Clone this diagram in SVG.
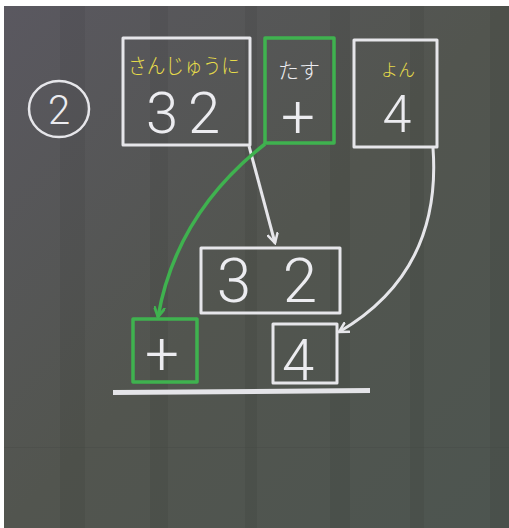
<svg xmlns="http://www.w3.org/2000/svg" width="509" height="528" viewBox="0 0 509 528">
<defs>
<linearGradient id="bg" x1="0" y1="0" x2="1" y2="1">
<stop offset="0" stop-color="#5a5860"/>
<stop offset="0.5" stop-color="#52554f"/>
<stop offset="1" stop-color="#4d5550"/>
</linearGradient>
<marker id="hw" viewBox="0 0 12 12" refX="10" refY="6" markerWidth="12" markerHeight="12" markerUnits="userSpaceOnUse" orient="auto">
<path d="M1,1 L10,6 L1,11" fill="none" stroke="#e6e6ea" stroke-width="2.5" stroke-linecap="round"/>
</marker>
<marker id="hg" viewBox="0 0 12 12" refX="10" refY="6" markerWidth="12" markerHeight="12" markerUnits="userSpaceOnUse" orient="auto">
<path d="M1,1 L10,6 L1,11" fill="none" stroke="#3fb24f" stroke-width="2.8" stroke-linecap="round"/>
</marker>
</defs>
<style>
.w{fill:none;stroke:#e6e6ea;stroke-width:3;stroke-linejoin:round}
.g{fill:none;stroke:#3fb24f;stroke-width:3.5;stroke-linejoin:round}
.big{font-family:Roboto,"Open Sans",Lato,sans-serif;font-weight:300;fill:#ececf0;text-anchor:middle}
.jy{font-family:"Noto Sans CJK JP",sans-serif;font-weight:300;fill:#e6dc4a;text-anchor:middle}
.jw{font-family:"Noto Sans CJK JP",sans-serif;font-weight:300;fill:#ececf0;text-anchor:middle}
.streak{fill:#000;opacity:0.05}
</style>
<rect x="0" y="0" width="509" height="528" fill="#ffffff"/>
<rect x="4" y="6" width="505" height="522" fill="url(#bg)"/>
<g id="board-texture">
<rect class="streak" x="60" y="6" width="25" height="522"/>
<rect class="streak" x="150" y="6" width="18" height="522"/>
<rect class="streak" x="245" y="6" width="12" height="522"/>
<rect class="streak" x="330" y="6" width="20" height="522"/>
<rect class="streak" x="410" y="6" width="14" height="522"/>
<rect class="streak" x="490" y="6" width="19" height="522"/>
<rect x="4" y="447" width="505" height="1" fill="#3e423e" opacity="0.25"/>
</g>
<g id="label-2">
<ellipse cx="59" cy="109" rx="30" ry="28" fill="none" stroke="#e6e6ea" stroke-width="2.5"/>
<text class="big" x="59" y="124" font-size="40">2</text>
</g>
<g id="box-32">
<rect class="w" x="123" y="38" width="127" height="107"/>
<text class="jy" x="184" y="73" font-size="21" textLength="112" lengthAdjust="spacingAndGlyphs">さんじゅうに</text>
<text class="big" font-size="58" y="133"><tspan x="162">3</tspan><tspan x="204">2</tspan></text>
</g>
<g id="box-plus">
<rect class="g" x="265" y="38" width="69" height="105"/>
<text class="jw" x="299" y="78" font-size="21">たす</text>
<text class="big" x="298" y="137" font-size="60">+</text>
</g>
<g id="box-4">
<rect class="w" x="354" y="40" width="83" height="107"/>
<text class="jy" x="398" y="76" font-size="17">よん</text>
<text class="big" x="397" y="132" font-size="52">4</text>
</g>
<g id="box-32-result">
<rect class="w" x="201" y="248" width="139" height="65"/>
<text class="big" font-size="62" y="302"><tspan x="234">3</tspan><tspan x="300">2</tspan></text>
</g>
<g id="box-plus-result">
<rect class="g" x="133" y="319" width="64" height="63"/>
<text class="big" x="162" y="374" font-size="60">+</text>
</g>
<g id="box-4-result">
<rect class="w" x="273" y="324" width="64" height="59"/>
<text class="big" x="298" y="380" font-size="58">4</text>
</g>
<g id="underline">
<path d="M113,392.5 L370,390.5" stroke="#e4e4e8" stroke-width="5" fill="none"/>
</g>
<g id="connectors">
<path class="w" d="M249,146 L275,243" stroke-width="2.5" marker-end="url(#hw)"/>
<path class="g" d="M265,144 Q176,214 158,317" stroke-width="3" marker-end="url(#hg)"/>
<path class="w" d="M433,148 Q442,272 339,332" stroke-width="2.5" marker-end="url(#hw)"/>
</g>
</svg>
